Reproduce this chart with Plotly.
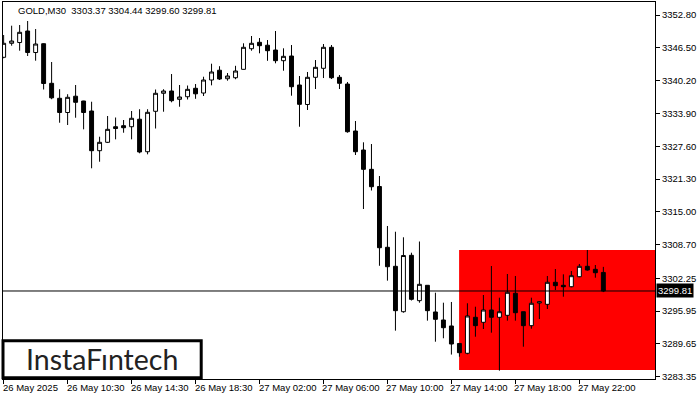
import plotly.graph_objects as go

# ---- data (GOLD, M30) ----
opens = [3344.68, 3347.37, 3347.52, 3349.73, 3345.60, 3347.29, 3339.69, 3336.81, 3334.08, 3337.21,
         3336.29, 3334.37, 3326.75, 3328.36, 3331.35, 3331.55, 3331.35, 3332.79, 3326.55, 3334.31,
         3337.77, 3338.21, 3336.61, 3337.11, 3338.73, 3337.82, 3340.32, 3342.20, 3340.57, 3340.76,
         3342.37, 3346.33, 3347.56, 3347.00, 3346.08, 3344.03, 3344.93, 3339.36, 3335.62, 3340.84,
         3342.57, 3346.60, 3340.84, 3339.55, 3330.53, 3326.88, 3323.17, 3319.87, 3308.20, 3304.55,
         3295.83, 3306.66, 3297.95, 3300.90, 3295.78, 3294.24, 3293.09, 3289.73, 3287.85, 3294.76,
         3293.80, 3296.16, 3294.76, 3295.14, 3299.37, 3295.83, 3293.15, 3297.50, 3297.25, 3301.48,
         3300.90, 3300.63, 3302.55, 3304.55, 3303.97, 3303.37]
highs = [3348.96, 3350.75, 3350.88, 3351.65, 3350.11, 3347.37, 3343.78, 3338.55, 3337.59, 3339.36,
         3336.33, 3336.15, 3329.43, 3333.41, 3333.12, 3332.64, 3334.37, 3334.71, 3334.71, 3338.50,
         3338.55, 3341.47, 3339.36, 3339.26, 3339.55, 3340.95, 3343.45, 3342.97, 3341.66, 3343.05,
         3347.37, 3348.77, 3348.38, 3348.00, 3349.73, 3346.41, 3347.04, 3341.09, 3341.86, 3344.16,
         3347.23, 3347.04, 3341.28, 3339.94, 3332.45, 3328.36, 3328.03, 3321.89, 3312.29, 3311.19,
         3310.12, 3307.16, 3309.31, 3300.96, 3299.48, 3297.56, 3297.70, 3289.77, 3297.45, 3296.79,
         3299.04, 3304.61, 3298.52, 3303.07, 3302.69, 3295.83, 3298.52, 3297.88, 3302.69, 3304.03,
         3303.01, 3303.65, 3304.99, 3307.68, 3304.80, 3304.44]
lows = [3344.50, 3346.91, 3345.95, 3344.93, 3344.03, 3338.50, 3336.63, 3332.12, 3331.68, 3333.08,
        3330.85, 3323.37, 3324.63, 3328.22, 3328.93, 3330.20, 3328.93, 3326.25, 3326.05, 3331.01,
        3334.23, 3336.04, 3335.19, 3336.58, 3336.71, 3337.25, 3339.30, 3340.32, 3340.19, 3340.47,
        3342.34, 3345.95, 3345.45, 3344.01, 3343.53, 3342.11, 3337.31, 3331.35, 3334.56, 3338.59,
        3340.70, 3340.51, 3338.59, 3330.20, 3325.92, 3315.55, 3319.10, 3304.65, 3301.79, 3292.19,
        3295.64, 3297.98, 3297.56, 3294.11, 3290.07, 3290.73, 3287.60, 3287.19, 3287.65, 3291.03,
        3292.51, 3291.80, 3284.51, 3294.11, 3294.11, 3289.11, 3292.57, 3294.43, 3296.35, 3300.00,
        3298.71, 3300.52, 3302.44, 3303.71, 3302.36, 3299.60]
closes = [3347.37, 3347.81, 3349.48, 3345.60, 3347.23, 3339.65, 3336.90, 3334.08, 3337.00, 3336.04,
          3334.08, 3326.75, 3328.36, 3330.85, 3331.01, 3331.16, 3332.97, 3326.50, 3334.12, 3337.77,
          3338.21, 3336.35, 3337.06, 3338.53, 3337.67, 3340.32, 3341.86, 3340.51, 3341.09, 3342.05,
          3346.60, 3347.37, 3346.91, 3345.95, 3344.03, 3344.87, 3339.03, 3335.65, 3340.84, 3342.76,
          3346.60, 3340.76, 3339.69, 3330.39, 3326.55, 3323.17, 3319.83, 3308.12, 3304.47, 3296.03,
          3306.62, 3298.21, 3301.09, 3296.03, 3294.37, 3292.76, 3289.63, 3287.96, 3295.01, 3293.15,
          3296.16, 3294.76, 3295.83, 3299.56, 3295.64, 3293.15, 3297.45, 3297.74, 3301.48, 3300.83,
          3300.63, 3302.75, 3304.55, 3303.84, 3303.32, 3299.81]
bars = list(range(len(opens)))

x_tick_bars = [0, 8, 16, 24, 32, 40, 48, 56, 64, 72]
x_tick_labels = ['26 May 2025', '26 May 10:30', '26 May 14:30', '26 May 18:30', '27 May 02:00',
                 '27 May 06:00', '27 May 10:00', '27 May 14:00', '27 May 18:00', '27 May 22:00']
y_tick_vals = [3352.80, 3346.50, 3340.20, 3333.90, 3327.60, 3321.30, 3315.00, 3308.70,
               3302.25, 3295.95, 3289.65, 3283.35]
y_tick_text = ['%.2f' % v for v in y_tick_vals]

title_text = 'GOLD,M30  3303.37 3304.44 3299.60 3299.81'
last_price = 3299.81
zone_start_bar = 57
zone_top = 3307.68
zone_bottom = 3284.64

FONT = 'Liberation Sans, Arial, sans-serif'

fig = go.Figure()
fig.add_trace(go.Candlestick(
    x=bars, open=opens, high=highs, low=lows, close=closes,
    increasing=dict(line=dict(color='black', width=1), fillcolor='white'),
    decreasing=dict(line=dict(color='black', width=1), fillcolor='black'),
    whiskerwidth=0, showlegend=False, hoverinfo='skip'))

shapes = [
    dict(type='rect', xref='x', yref='y', x0=zone_start_bar - 0.04, x1=81.5,
         y0=zone_bottom, y1=zone_top, fillcolor='#FF0000', line=dict(width=0), layer='below'),
    dict(type='line', xref='paper', yref='y', x0=0, x1=1, y0=last_price, y1=last_price,
         line=dict(color='black', width=1), layer='above'),
    dict(type='rect', xref='paper', yref='paper', x0=0.0, x1=0.304, y0=0.003, y1=0.1016,
         fillcolor='white', line=dict(color='black', width=3), layer='above'),
]

annotations = []
for b, t in zip(x_tick_bars, x_tick_labels):
    annotations.append(dict(x=b, y=0, xref='x', yref='paper', text=t, showarrow=False,
                            xanchor='left', yanchor='top', xshift=-3, yshift=-1,
                            font=dict(family=FONT, size=9.5, color='black')))
annotations.append(dict(x=0, y=1, xref='paper', yref='paper', text=title_text, showarrow=False,
                        xanchor='left', yanchor='top', xshift=13, yshift=-1,
                        font=dict(family=FONT, size=9.5, color='black')))
annotations.append(dict(x=1, y=last_price, xref='paper', yref='y', text='%.2f' % last_price,
                        showarrow=False, xanchor='left', yanchor='middle', xshift=1,
                        bgcolor='black', borderpad=1,
                        font=dict(family=FONT, size=9.5, color='white')))
annotations.append(dict(x=0.1514, y=0.053, xref='paper', yref='paper', text='InstaFıntech',
                        showarrow=False, xanchor='center', yanchor='middle',
                        font=dict(family='Lato, Inter, sans-serif', size=28.5, color='#222222')))

fig.update_layout(
    width=700, height=400,
    margin=dict(l=3, r=45, t=2, b=21),
    paper_bgcolor='white', plot_bgcolor='white',
    shapes=shapes, annotations=annotations,
    font=dict(family=FONT, size=9.5, color='black'),
    xaxis=dict(range=[-0.08, 81.46], rangeslider=dict(visible=False), showgrid=False,
               zeroline=False, showline=True, mirror=True, linecolor='black', linewidth=1,
               tickmode='array', tickvals=x_tick_bars, ticks='outside', ticklen=4,
               tickcolor='black', showticklabels=False),
    yaxis=dict(range=[3282.91, 3355.30], side='right', showgrid=False, zeroline=False,
               showline=True, mirror=True, linecolor='black', linewidth=1,
               tickmode='array', tickvals=y_tick_vals, ticktext=y_tick_text,
               ticks='outside', ticklen=4, tickcolor='black',
               tickfont=dict(family=FONT, size=9.5, color='black')),
)

fig.write_html('out.html', config={'displayModeBar': False},
               post_script="document.body.style.margin='0';document.body.style.padding='0';")
